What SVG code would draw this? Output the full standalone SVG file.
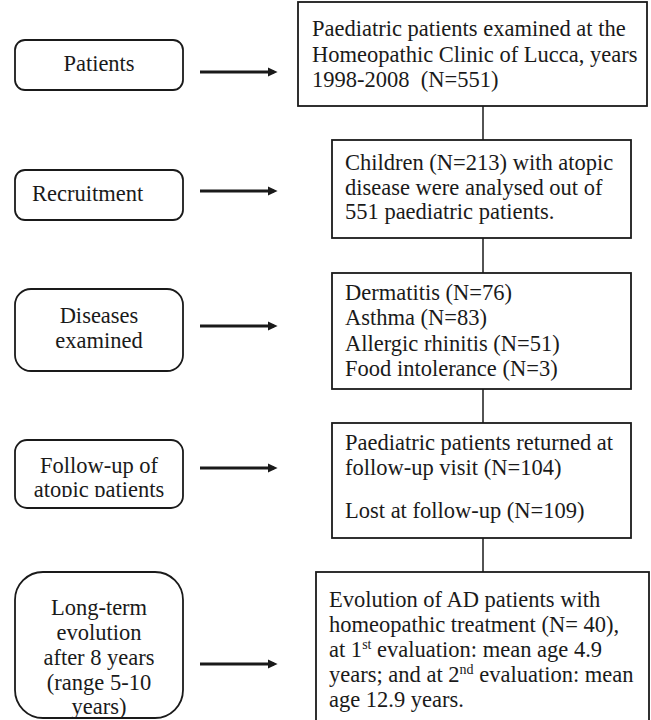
<svg xmlns="http://www.w3.org/2000/svg" width="651" height="720" viewBox="0 0 651 720">
<defs>
<style>
.t{font-family:"Liberation Serif","Times New Roman",serif;font-size:22.5px;fill:#1a1a1a}
.c{text-anchor:middle}
.lb{fill:#fff;stroke:#1a1a1a;stroke-width:1.8}
.rb{fill:#fff;stroke:#1a1a1a;stroke-width:1.8}
.ln{stroke:#1a1a1a;stroke-width:1.5;fill:none}
.ar{stroke:#1a1a1a;stroke-width:3;fill:none}
.sup{font-size:14px}
</style>
<marker id="ah" markerWidth="4" markerHeight="4" refX="2" refY="2" orient="auto" markerUnits="strokeWidth">
<path d="M0,0.5 L3.2,2 L0,3.5 Z" fill="#1a1a1a"/>
</marker>
<clipPath id="fuclip"><rect x="15" y="440" width="168" height="57"/></clipPath>
</defs>
<rect width="651" height="720" fill="#fff"/>
<g id="connectors">
<line class="ln" x1="483" y1="106" x2="483" y2="140"/>
<line class="ln" x1="483" y1="238" x2="483" y2="273"/>
<line class="ln" x1="483" y1="389" x2="483" y2="423"/>
<line class="ln" x1="483" y1="538" x2="483" y2="572"/>
<line class="ar" x1="200" y1="72" x2="274" y2="72" marker-end="url(#ah)"/>
<line class="ar" x1="200" y1="191" x2="274" y2="191" marker-end="url(#ah)"/>
<line class="ar" x1="200" y1="326" x2="274" y2="326" marker-end="url(#ah)"/>
<line class="ar" x1="200" y1="468" x2="274" y2="468" marker-end="url(#ah)"/>
<line class="ar" x1="200" y1="664" x2="274" y2="664" marker-end="url(#ah)"/>
</g>
<g id="patients">
<rect class="lb" x="15" y="40" width="168" height="50" rx="10"/>
<text class="t c" x="99" y="71">Patients</text>
</g>
<g id="recruitment">
<rect class="lb" x="15" y="170" width="168" height="50" rx="10"/>
<text class="t" x="32" y="201">Recruitment</text>
</g>
<g id="diseases">
<rect class="lb" x="15" y="289" width="168" height="82" rx="16"/>
<text class="t c" x="99" y="323">Diseases</text>
<text class="t c" x="99" y="348">examined</text>
</g>
<g id="followup">
<rect class="lb" x="15" y="440" width="168" height="68" rx="12"/>
<g clip-path="url(#fuclip)">
<text class="t c" x="99" y="473">Follow-up of</text>
<text class="t c" x="99" y="497">atopic patients</text>
</g>
</g>
<g id="longterm">
<rect class="lb" x="15" y="572" width="168" height="146" rx="28"/>
<text class="t c" x="99" y="615">Long-term</text>
<text class="t c" x="99" y="640">evolution</text>
<text class="t c" x="99" y="665">after 8 years</text>
<text class="t c" x="99" y="690">(range 5-10</text>
<text class="t c" x="99" y="714">years)</text>
</g>
<g id="box1">
<rect class="rb" x="298" y="2" width="349" height="104"/>
<text class="t" x="312" y="36">Paediatric patients examined at the</text>
<text class="t" x="312" y="62">Homeopathic Clinic of Lucca, years</text>
<text class="t" x="312" y="87" xml:space="preserve">1998-2008  (N=551)</text>
</g>
<g id="box2">
<rect class="rb" x="332" y="140" width="299" height="98"/>
<text class="t" x="345" y="170">Children (N=213) with atopic</text>
<text class="t" x="345" y="195">disease were analysed out of</text>
<text class="t" x="345" y="219">551 paediatric patients.</text>
</g>
<g id="box3">
<rect class="rb" x="332" y="273" width="299" height="116"/>
<text class="t" x="345" y="300">Dermatitis (N=76)</text>
<text class="t" x="345" y="325">Asthma (N=83)</text>
<text class="t" x="345" y="351">Allergic rhinitis (N=51)</text>
<text class="t" x="345" y="376">Food intolerance (N=3)</text>
</g>
<g id="box4">
<rect class="rb" x="332" y="423" width="299" height="115"/>
<text class="t" x="345" y="450">Paediatric patients returned at</text>
<text class="t" x="345" y="475">follow-up visit (N=104)</text>
<text class="t" x="345" y="518">Lost at follow-up (N=109)</text>
</g>
<g id="box5">
<rect class="rb" x="316" y="572" width="333" height="160"/>
<text class="t" x="329" y="607">Evolution of AD patients with</text>
<text class="t" x="329" y="632">homeopathic treatment (N= 40),</text>
<text class="t" x="329" y="657">at 1<tspan class="sup" dy="-8">st</tspan><tspan dy="8"> evaluation: mean age 4.9</tspan></text>
<text class="t" x="329" y="682">years; and at 2<tspan class="sup" dy="-8">nd</tspan><tspan dy="8"> evaluation: mean</tspan></text>
<text class="t" x="329" y="707">age 12.9 years.</text>
</g>
</svg>
